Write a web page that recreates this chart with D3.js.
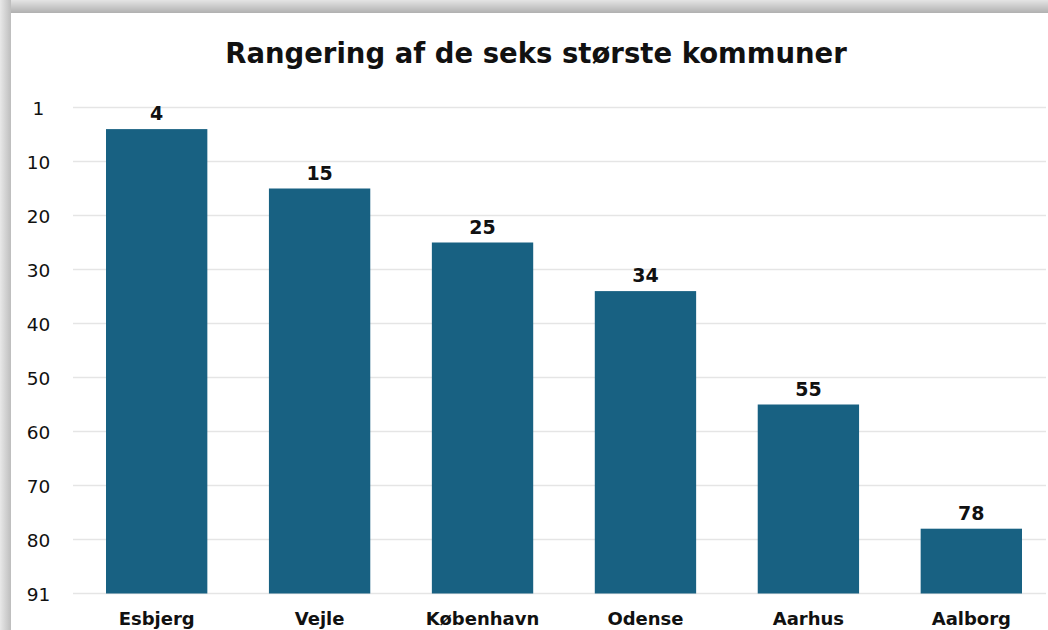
<!DOCTYPE html>
<html><head><meta charset="utf-8">
<script src="https://cdn.jsdelivr.net/npm/d3@7"></script>
<style>html,body{margin:0;padding:0;background:#fff;}svg{display:block;}</style>
</head><body>
<svg id="chart" width="1048" height="630"></svg>
<script>
const title = "Rangering af de seks største kommuner";
const categories = ["Esbjerg","Vejle","København","Odense","Aarhus","Aalborg"];
const ranks = [4,15,25,34,55,78];
const tickValues = [0,10,20,30,40,50,60,70,80,90];
const tickLabels = ["1","10","20","30","40","50","60","70","80","91"];

const W = 1048, H = 630;
const svg = d3.select("#chart");
const defs = svg.append("defs");
const grad = defs.append("linearGradient").attr("id","topg").attr("x1",0).attr("y1",0).attr("x2",0).attr("y2",1);
grad.append("stop").attr("offset","0%").attr("stop-color","#e4e4e4");
grad.append("stop").attr("offset","100%").attr("stop-color","#b0b0b0");
const gradL = defs.append("linearGradient").attr("id","leftg").attr("x1",0).attr("y1",0).attr("x2",1).attr("y2",0);
gradL.append("stop").attr("offset","0%").attr("stop-color","#e8e8e8");
gradL.append("stop").attr("offset","100%").attr("stop-color","#bdbdbd");

svg.append("rect").attr("x",0).attr("y",0).attr("width",W).attr("height",H).attr("fill","#ffffff");
svg.append("rect").attr("x",0).attr("y",0).attr("width",W).attr("height",13).attr("fill","url(#topg)");
svg.append("rect").attr("x",0).attr("y",0).attr("width",11).attr("height",H).attr("fill","url(#leftg)");
svg.append("rect").attr("x",11).attr("y",13).attr("width",W-11).attr("height",H-13).attr("fill","#ffffff");

const font = "'DejaVu Sans', sans-serif";

const y = d3.scaleLinear().domain([0,90]).range([107.5,593.5]);
const x = d3.scaleBand().domain(categories).range([106,1022]).paddingInner(0.378).paddingOuter(0);

// title
svg.append("text").attr("x",536).attr("y",63).attr("text-anchor","middle")
  .attr("font-family",font).attr("font-weight","bold").attr("font-size",27.5)
  .attr("fill","#111").text(title);

// gridlines + y labels via axis
const yAxis = d3.axisLeft(y).tickValues(tickValues).tickSize(0).tickPadding(0)
  .tickFormat((d,i)=>tickLabels[i]);
const gy = svg.append("g").attr("transform","translate(38.5,0)").call(yAxis);
gy.select(".domain").remove();
gy.selectAll("text").attr("text-anchor","middle").attr("x",0).attr("dy","0.36em")
  .attr("font-family",font).attr("font-size",18.5).attr("fill","#111");

svg.append("g").selectAll("line").data(tickValues).join("line")
  .attr("x1",73).attr("x2",1046).attr("y1",d=>y(d)).attr("y2",d=>y(d))
  .attr("stroke","#e5e5e5").attr("stroke-width",1.5);

// bars
svg.append("g").selectAll("rect").data(ranks).join("rect")
  .attr("x",(d,i)=>x(categories[i])).attr("width",x.bandwidth())
  .attr("y",d=>y(d)).attr("height",d=>y(90)-y(d))
  .attr("fill","#186182");

// value labels
svg.append("g").selectAll("text").data(ranks).join("text")
  .attr("x",(d,i)=>x(categories[i])+x.bandwidth()/2).attr("y",d=>y(d)-9)
  .attr("text-anchor","middle").attr("font-family",font).attr("font-weight","bold")
  .attr("font-size",19).attr("fill","#111").text(d=>d);

// x axis labels
const xAxis = d3.axisBottom(x).tickSize(0).tickPadding(0);
const gx = svg.append("g").attr("transform","translate(0,625)").call(xAxis);
gx.select(".domain").remove();
gx.selectAll("text").attr("dy",0).attr("y",0).attr("font-family",font).attr("font-weight","bold")
  .attr("font-size",18).attr("fill","#111");
</script>
</body></html>
